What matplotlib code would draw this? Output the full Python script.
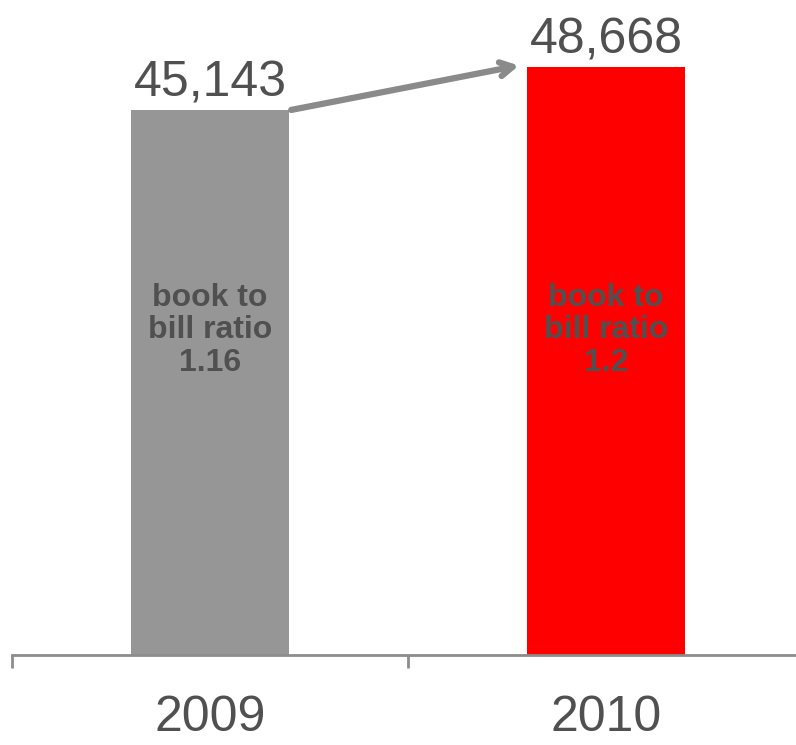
import matplotlib
matplotlib.use('Agg')
import matplotlib.pyplot as plt

GRAY_BAR = '#969696'
RED = '#ff0000'
TEXT = '#505050'
AXIS = '#8c8c8c'

years = ['2009', '2010']
orders = [45143, 48668]
ratios = ['1.16', '1.2']
colors = [GRAY_BAR, RED]

plt.rcParams['font.family'] = ['Liberation Sans', 'DejaVu Sans']

fig = plt.figure(figsize=(7.96, 7.45), dpi=100)
ax = fig.add_axes([12 / 796, 90 / 745, 792 / 796, 652 / 745])

x = list(range(len(years)))
ax.bar(x, orders, width=0.4, color=colors, zorder=2)
ax.set_xlim(-0.5, 1.5)
ax.set_ylim(0, 54000)

for xi, v, r in zip(x, orders, ratios):
    ax.annotate(f"{v:,}", (xi, v), xytext=(0, 10), textcoords='offset points',
                ha='center', va='baseline', fontsize=36, color=TEXT)
    ax.text(xi, 26900, f"book to\nbill ratio\n{r}", ha='center', va='center',
            fontsize=23, fontweight='bold', color=TEXT, linespacing=1.1)

# growth arrow
ax.annotate('', xy=(0.78, orders[1] + 150), xytext=(0.205, orders[0]),
            arrowprops=dict(arrowstyle='->,head_length=0.9,head_width=0.5',
                            color='#8a8a8a', lw=4.5, shrinkA=0, shrinkB=0))

for s in ['top', 'right', 'left']:
    ax.spines[s].set_visible(False)
ax.spines['bottom'].set_color(AXIS)
ax.spines['bottom'].set_linewidth(2)
ax.set_yticks([])
ax.set_xticks(x)
ax.set_xticklabels(years, fontsize=36, color=TEXT)
ax.tick_params(axis='x', which='major', length=0, pad=29)
ax.set_xticks([-0.5, 0.5, 1.5], minor=True)
ax.tick_params(axis='x', which='minor', length=9, width=2, color=AXIS)

fig.savefig('out.png', dpi=100, facecolor='white')
